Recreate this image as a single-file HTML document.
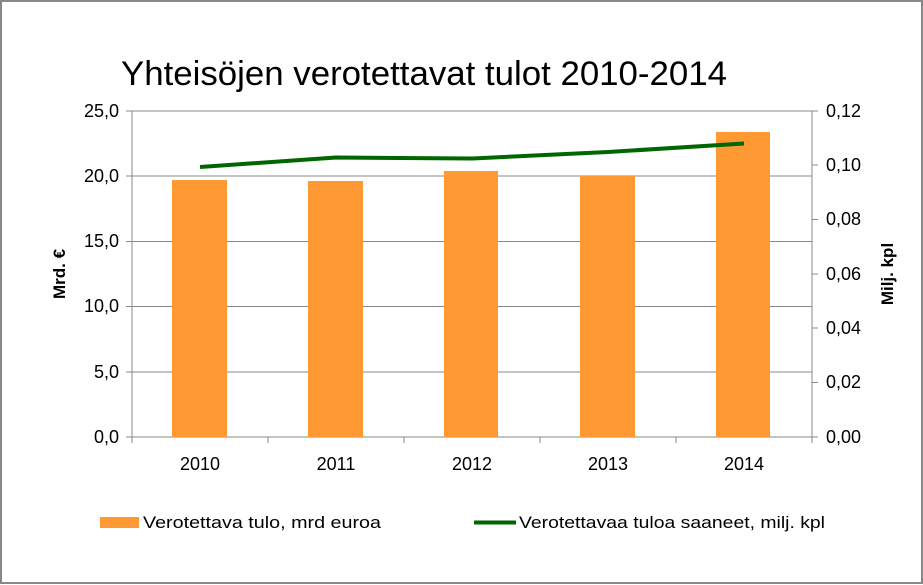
<!DOCTYPE html>
<html><head><meta charset="utf-8"><style>
body{margin:0;background:#fff}
svg{display:block;font-family:"Liberation Sans",sans-serif}
</style></head><body>
<svg width="923" height="585" viewBox="0 0 923 585">
<rect x="1" y="1" width="921" height="582" fill="#fff" stroke="#888" stroke-width="2"/>
<text x="121" y="85" font-size="34" fill="#000" textLength="606" lengthAdjust="spacingAndGlyphs">Yhteisöjen verotettavat tulot 2010-2014</text>
<g stroke="#888" stroke-width="1">
<line x1="132" y1="111" x2="812" y2="111"/>
<line x1="132" y1="176" x2="812" y2="176"/>
<line x1="132" y1="241.5" x2="812" y2="241.5"/>
<line x1="132" y1="306.5" x2="812" y2="306.5"/>
<line x1="132" y1="372" x2="812" y2="372"/>
<line x1="126" y1="437" x2="818" y2="437"/>
<line x1="132" y1="111" x2="132" y2="437"/>
<line x1="812" y1="111" x2="812" y2="437"/>
<g>
<line x1="126" y1="111" x2="132" y2="111"/><line x1="126" y1="176" x2="132" y2="176"/><line x1="126" y1="241.5" x2="132" y2="241.5"/><line x1="126" y1="306.5" x2="132" y2="306.5"/><line x1="126" y1="372" x2="132" y2="372"/>
<line x1="812" y1="111" x2="818" y2="111"/><line x1="812" y1="165" x2="818" y2="165"/><line x1="812" y1="219.5" x2="818" y2="219.5"/><line x1="812" y1="274" x2="818" y2="274"/><line x1="812" y1="328" x2="818" y2="328"/><line x1="812" y1="382.5" x2="818" y2="382.5"/>
<line x1="268" y1="437" x2="268" y2="443"/><line x1="404" y1="437" x2="404" y2="443"/><line x1="540" y1="437" x2="540" y2="443"/><line x1="676" y1="437" x2="676" y2="443"/><line x1="132" y1="437" x2="132" y2="443"/><line x1="812" y1="437" x2="812" y2="443"/>
</g></g>
<g fill="#ff9933">
<rect x="172" y="180" width="55" height="257"/>
<rect x="308" y="181" width="55" height="256"/>
<rect x="444" y="171" width="54" height="266"/>
<rect x="580" y="176" width="55" height="261"/>
<rect x="716" y="132" width="54" height="305"/>
</g>
<polyline points="200,167 336,157.5 472,158.5 608,152 744,143.5" fill="none" stroke="#006600" stroke-width="4" stroke-linejoin="round"/>
<g font-size="18" text-anchor="end">
<text x="119" y="117">25,0</text><text x="119" y="182">20,0</text><text x="119" y="247">15,0</text><text x="119" y="312">10,0</text><text x="119" y="378">5,0</text><text x="119" y="443">0,0</text>
</g>
<g font-size="18">
<text x="826" y="117">0,12</text><text x="826" y="171">0,10</text><text x="826" y="225">0,08</text><text x="826" y="280">0,06</text><text x="826" y="334">0,04</text><text x="826" y="388">0,02</text><text x="826" y="443">0,00</text>
</g>
<g font-size="18" text-anchor="middle">
<text x="200" y="470">2010</text><text x="336" y="470">2011</text><text x="472" y="470">2012</text><text x="608" y="470">2013</text><text x="744" y="470">2014</text>
</g>
<text transform="translate(65,274) rotate(-90)" font-size="17" font-weight="bold" text-anchor="middle">Mrd. €</text>
<text transform="translate(893,274) rotate(-90)" font-size="17" font-weight="bold" text-anchor="middle">Milj. kpl</text>
<rect x="100" y="517" width="39" height="11" fill="#ff9933"/>
<text x="143" y="528" font-size="17" textLength="238" lengthAdjust="spacingAndGlyphs">Verotettava tulo, mrd euroa</text>
<line x1="474" y1="522.5" x2="516" y2="522.5" stroke="#006600" stroke-width="4"/>
<text x="519" y="528" font-size="17" textLength="306" lengthAdjust="spacingAndGlyphs">Verotettavaa tuloa saaneet, milj. kpl</text>
</svg>
</body></html>
